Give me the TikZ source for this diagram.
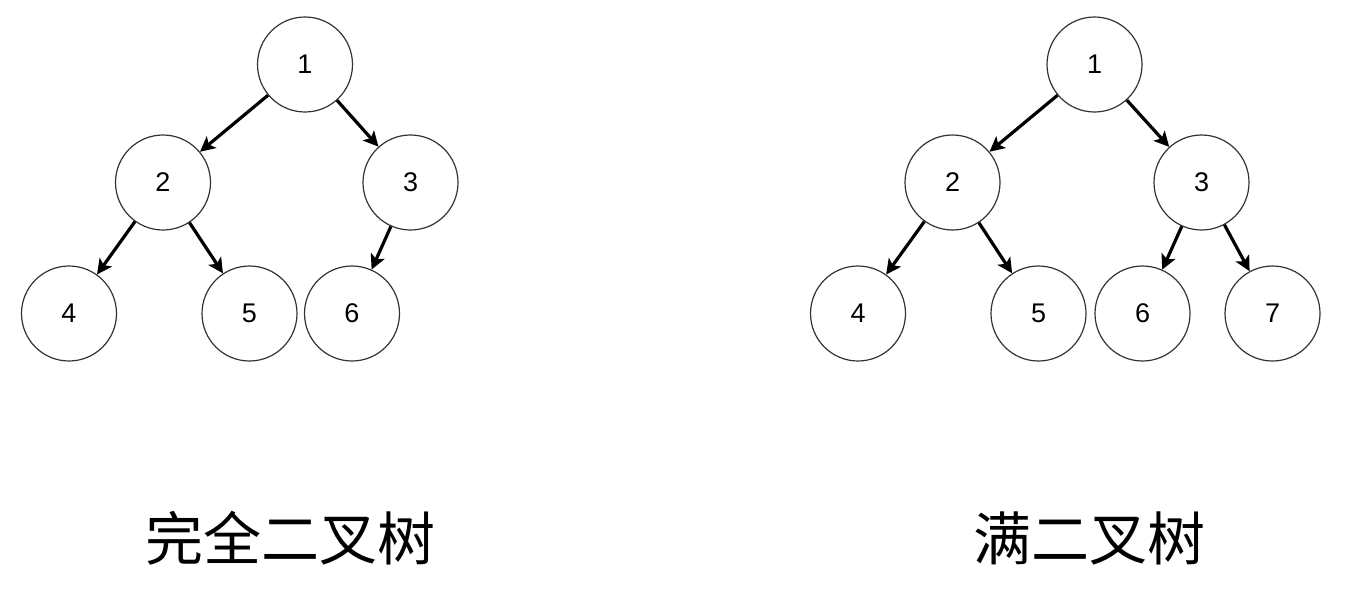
\documentclass[tikz,border=0pt]{standalone}
\usepackage{fontspec}
\setmainfont{Liberation Sans}
\newfontfamily\cjk{Noto Sans CJK SC}
\usetikzlibrary{arrows.meta}
\tikzset{
  treenode/.style={circle, draw=black!80, line width=0.6pt, minimum size=47.5pt, inner sep=0pt, fill=white, font=\fontsize{13.5}{15}\selectfont},
  edge/.style={line width=1.6pt, -{Stealth[length=7.5pt,width=7.5pt,inset=1.8pt]}},
  title/.style={font=\cjk\fontsize{29}{32}\selectfont, inner sep=0pt}
}
\begin{document}
\begin{tikzpicture}[x=0.5pt,y=-0.5pt]
\useasboundingbox (0,0) rectangle (1352,590);
% left tree: complete binary tree
\node[treenode] (a1) at (305,64.5) {1};
\node[treenode] (a2) at (163,182.5) {2};
\node[treenode] (a3) at (410.5,182.5) {3};
\node[treenode] (a4) at (69,313.5) {4};
\node[treenode] (a5) at (249.5,313.5) {5};
\node[treenode] (a6) at (352,313.5) {6};
\draw[edge] (a1) -- (a2);
\draw[edge] (a1) -- (a3);
\draw[edge] (a2) -- (a4);
\draw[edge] (a2) -- (a5);
\draw[edge] (a3) -- (a6);
% right tree: full binary tree
\node[treenode] (b1) at (1094.5,64.5) {1};
\node[treenode] (b2) at (952.5,182.5) {2};
\node[treenode] (b3) at (1201.5,182.5) {3};
\node[treenode] (b4) at (858,313.5) {4};
\node[treenode] (b5) at (1038.5,313.5) {5};
\node[treenode] (b6) at (1142.5,313.5) {6};
\node[treenode] (b7) at (1272.5,313.5) {7};
\draw[edge] (b1) -- (b2);
\draw[edge] (b1) -- (b3);
\draw[edge] (b2) -- (b4);
\draw[edge] (b2) -- (b5);
\draw[edge] (b3) -- (b6);
\draw[edge] (b3) -- (b7);
% titles
\node[title] (t1) at (290,538) {完全二叉树};
\node[title] (t2) at (1089,538) {满二叉树};
\end{tikzpicture}
\end{document}
